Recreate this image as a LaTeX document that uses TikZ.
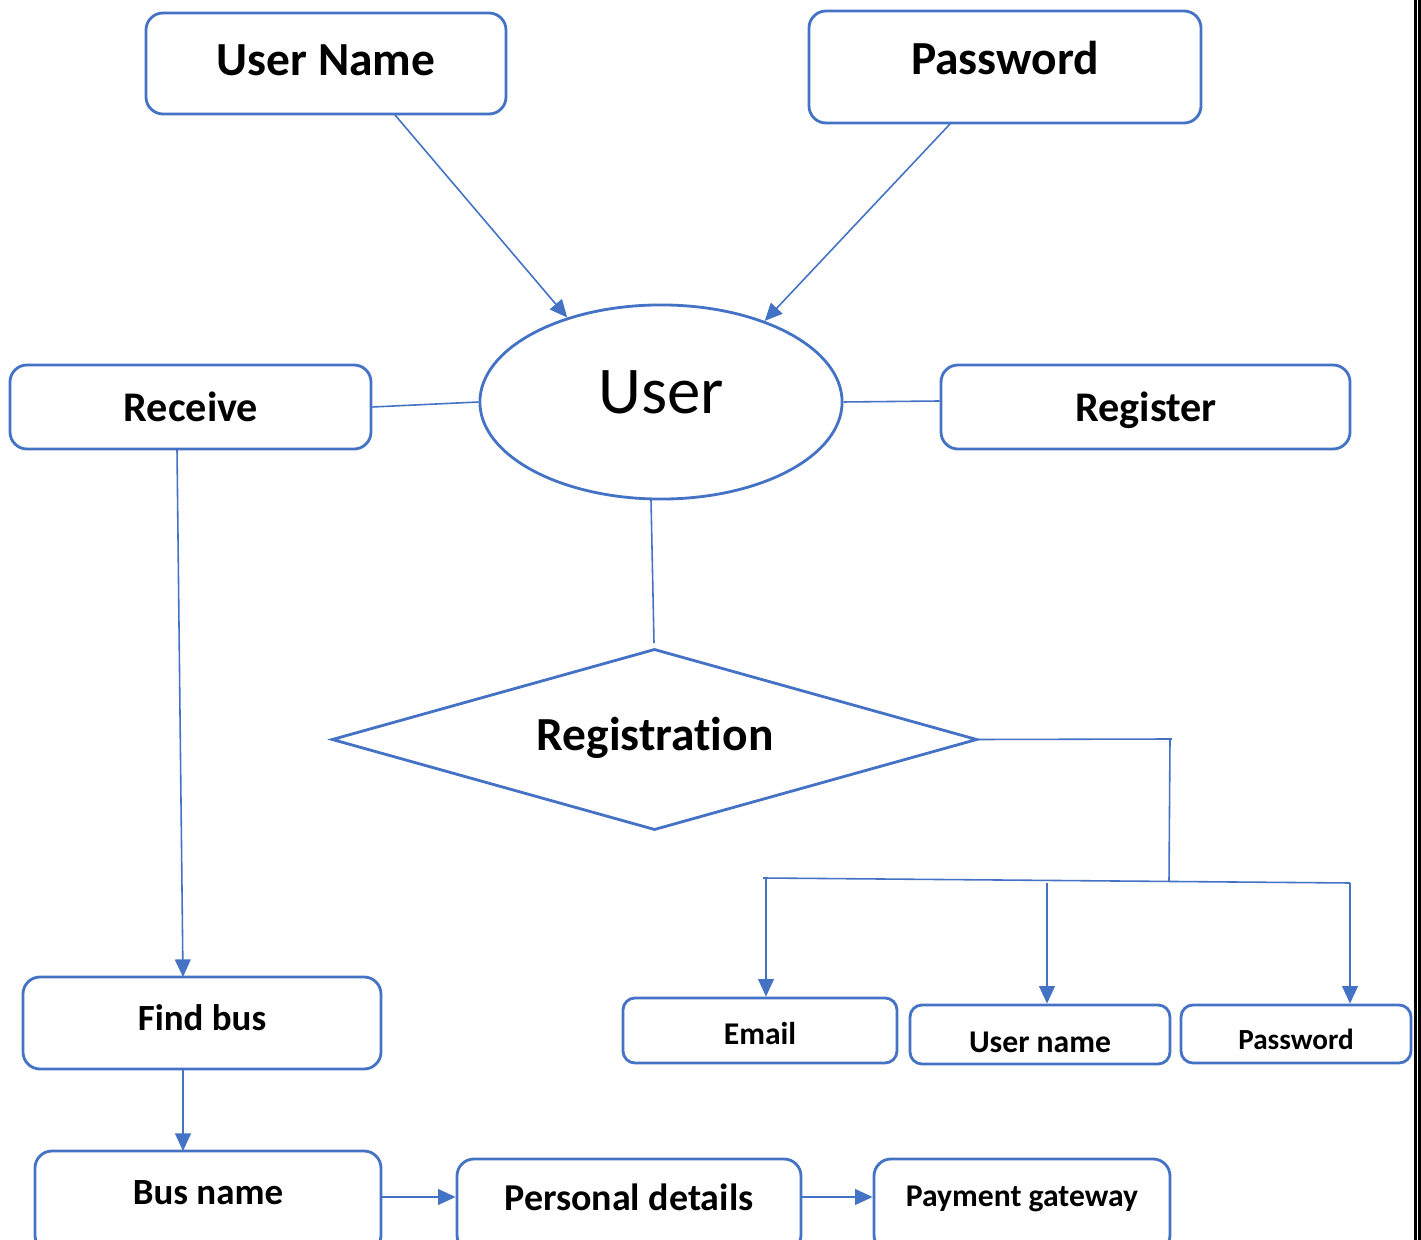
\documentclass[tikz,border=0pt]{standalone}
\usepackage{fontspec}
\setmainfont{Carlito}[Ligatures={NoCommon,NoContextual}]
\usetikzlibrary{shapes.geometric,arrows.meta,fit,calc}
\definecolor{myblue}{HTML}{4472C4}
\tikzset{
  box/.style={draw=myblue, line width=0.8pt, rounded corners=0.17cm, inner sep=0pt},
  sbox/.style={draw=myblue, line width=0.8pt, rounded corners=0.12cm, inner sep=0pt},
  conn/.style={draw=myblue, line width=0.45pt},
  arr/.style={conn, -{Triangle[length=5pt,width=4.5pt]}, myblue},
  lbl/.style={anchor=base, inner sep=0pt, font=\bfseries},
}
\newcommand{\fs}[1]{\fontsize{#1}{#1}\selectfont}
\begin{document}
\begin{tikzpicture}[x=0.01cm,y=-0.01cm]
\clip (0,0) rectangle (1421,1240);
\fill[white] (0,0) rectangle (1421,1240);

% boxes
\node[box, fit={(146,13) (506,114)}] (un) {};
\node[box, fit={(809,11) (1201,123)}] (pw) {};
\node[box, fit={(10,365) (371,449)}] (rc) {};
\node[box, fit={(941,365) (1350,449)}] (rg) {};
\node[box, fit={(23,977) (381,1069)}] (fb) {};
\node[box, fit={(35,1151) (381,1252)}] (bn) {};
\node[box, fit={(457,1159) (801,1252)}] (pd) {};
\node[box, fit={(874,1159) (1170,1252)}] (pg) {};
\node[sbox, fit={(623,998) (897,1063)}] (em) {};
\node[sbox, fit={(910,1005) (1170,1064)}] (un2) {};
\node[sbox, fit={(1181,1005) (1411,1063)}] (pw2) {};

\node[draw=myblue, line width=0.8pt, ellipse, minimum width=3.62cm, minimum height=1.94cm, inner sep=0pt] (user) at (661,402) {};
\node[draw=myblue, line width=0.8pt, diamond, minimum width=6.45cm, minimum height=1.81cm, inner sep=0pt] (reg) at (654.5,739.5) {};

% labels
\node[lbl, font=\bfseries\fs{13.5}] (tun) at (326,76) {User Name};
\node[lbl, font=\bfseries\fs{13.5}] (tpw) at (1005,75) {Password};
\node[anchor=base, inner sep=0pt, font=\fs{19}] (tuser) at (661,414) {User};
\node[lbl, font=\bfseries\fs{12}] (trc) at (191,422) {Receive};
\node[lbl, font=\bfseries\fs{12}] (trg) at (1146,422) {Register};
\node[lbl, font=\bfseries\fs{13.5}] (treg) at (655,751) {Registration};
\node[lbl, font=\bfseries\fs{10.5}] (tfb) at (202,1030) {Find bus};
\node[lbl, font=\bfseries\fs{10.5}] (tbn) at (208,1204) {Bus name};
\node[lbl, font=\bfseries\fs{10.8}] (tpd) at (629,1210) {Personal details};
\node[lbl, font=\bfseries\fs{9}] (tpg) at (1022,1206) {Payment gateway};
\node[lbl, font=\bfseries\fs{9}] (tem) at (760,1044) {Email};
\node[lbl, font=\bfseries\fs{9}] (tun2) at (1040,1052) {User name};
\node[lbl, font=\bfseries\fs{8.3}] (tpw2) at (1296,1049) {Password};

% coordinates
\coordinate (a1) at (395,115);
\coordinate (a2) at (950,124);
\coordinate (u1) at (651,500);
\coordinate (g1) at (654,643);
\coordinate (j1) at (1172,739);
\coordinate (j1b) at (1170,739);
\coordinate (j2) at (1169,881);
\coordinate (b1) at (763,878);
\coordinate (b2) at (1350,883);
\coordinate (d1) at (766,878);
\coordinate (d2) at (1047,883);
\coordinate (r1) at (177,449);
\coordinate (f1) at (183,977);
\coordinate (f2) at (183,1069);
\coordinate (f3) at (183,1151);
\coordinate (h1) at (0,1197);

% connectors
\draw[arr] (a1) -- (user.138);
\draw[arr] (a2) -- (user.38);
\draw[conn] (rc.east) -- (user.west);
\draw[conn] (user.east) -- ([yshift=0.06cm]rg.west);
\draw[conn] (u1) -- (g1);
\draw[conn] (reg.east) -- (j1);
\draw[conn] (j1b) -- (j2);
\draw[conn] (b1) -- (b2);
\draw[arr] (d1) -- (d1 |- em.north);
\draw[arr] (d2) -- (d2 |- un2.north);
\draw[arr] (b2) -- (b2 |- pw2.north);
\draw[arr] (r1) -- (f1);
\draw[arr] (f2) -- (f3);
\draw[arr] (bn.east |- h1) -- (pd.west |- h1);
\draw[arr] (pd.east |- h1) -- (pg.west |- h1);

% right border double line
\draw[line width=0.6pt] (1415.5,0) -- (1415.5,1240);
\draw[line width=0.6pt] (1419.5,0) -- (1419.5,1240);
\end{tikzpicture}
\end{document}
